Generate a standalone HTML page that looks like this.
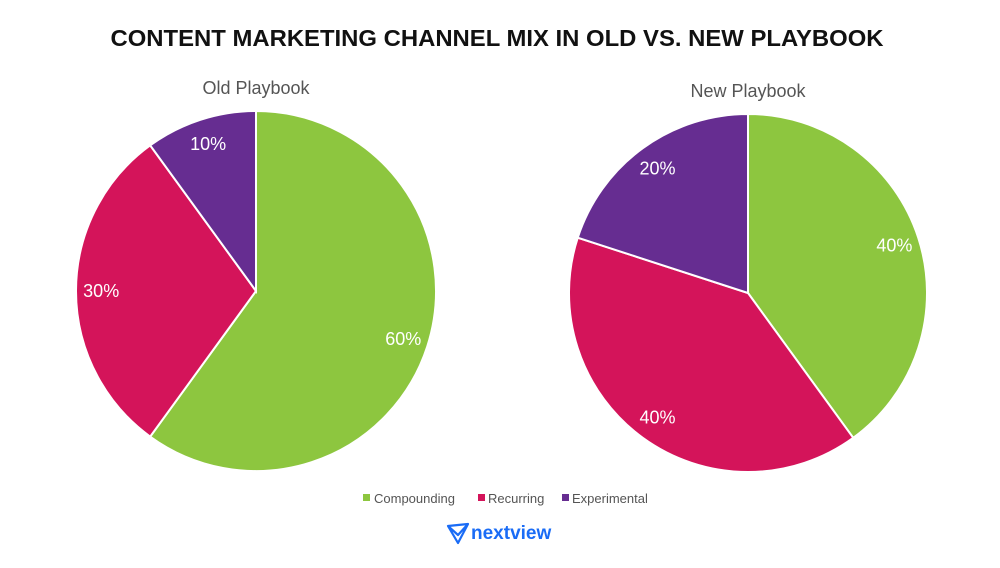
<!DOCTYPE html>
<html><head><meta charset="utf-8"><style>
body{margin:0;background:#fff;width:1000px;height:563px;overflow:hidden;font-family:"Liberation Sans",sans-serif}
</style></head><body>
<svg width="1000" height="563">
<text x="497" y="46" text-anchor="middle" font-size="23.5" font-weight="bold" fill="#111" textLength="773" lengthAdjust="spacingAndGlyphs">CONTENT MARKETING CHANNEL MIX IN OLD VS. NEW PLAYBOOK</text>
<g id="pies"></g>
<g font-size="13" fill="#555">
<rect x="363" y="494" width="7" height="7" fill="#8dc63f"/>
<text x="374" y="503">Compounding</text>
<rect x="478" y="494" width="7" height="7" fill="#d4145a"/>
<text x="488" y="503">Recurring</text>
<rect x="562" y="494" width="7" height="7" fill="#662d91"/>
<text x="572" y="503">Experimental</text>
</g>
<g>
<path d="M448 526 L468 524 L458 543 Z M448 526 L458 535 L468 524" fill="none" stroke="#1a6cf6" stroke-width="2.2" stroke-linejoin="round"/>
<text x="471" y="539" font-size="19" font-weight="bold" fill="#1a6cf6">nextview</text>
</g>
</svg>
<script>
const categories=["Compounding","Recurring","Experimental"];
const oldValues=[60,30,10];
const newValues=[40,40,20];
const titles=["Old Playbook","New Playbook"];
const colors=["#8dc63f","#d4145a","#662d91"];
const NS="http://www.w3.org/2000/svg";
const g=document.getElementById("pies");
function pie(vals,cx,cy,r,title,key){
  const t=document.createElementNS(NS,"text");
  t.setAttribute("x",cx);t.setAttribute("y",cy-r-17);t.setAttribute("text-anchor","middle");
  t.setAttribute("font-size","18");t.setAttribute("fill","#555");t.textContent=title;
  
  
  g.appendChild(t);
  const tot=vals.reduce((a,b)=>a+b,0);let a0=0;
  vals.forEach((v,i)=>{
    const a1=a0+v/tot*2*Math.PI;
    const p=(a)=>[cx+r*Math.sin(a),cy-r*Math.cos(a)];
    const [x0,y0]=p(a0),[x1,y1]=p(a1);
    const path=document.createElementNS(NS,"path");
    path.setAttribute("d",`M${cx},${cy}L${x0},${y0}A${r},${r} 0 ${a1-a0>Math.PI?1:0} 1 ${x1},${y1}Z`);
    path.setAttribute("fill",colors[i]);path.setAttribute("stroke","#fff");path.setAttribute("stroke-width","2");
    
    
    g.appendChild(path);
    const am=(a0+a1)/2,lr=r*0.86;
    const l=document.createElementNS(NS,"text");
    l.setAttribute("x",cx+lr*Math.sin(am));l.setAttribute("y",cy-lr*Math.cos(am)+6);
    l.setAttribute("text-anchor","middle");l.setAttribute("font-size","18");l.setAttribute("fill","#fff");
    l.textContent=v+"%";
    
    
    g.appendChild(l);
    a0=a1;
  });
}
pie(oldValues,256,291,180,titles[0],"old");
pie(newValues,748,293,179,titles[1],"new");
</script>
</body></html>
